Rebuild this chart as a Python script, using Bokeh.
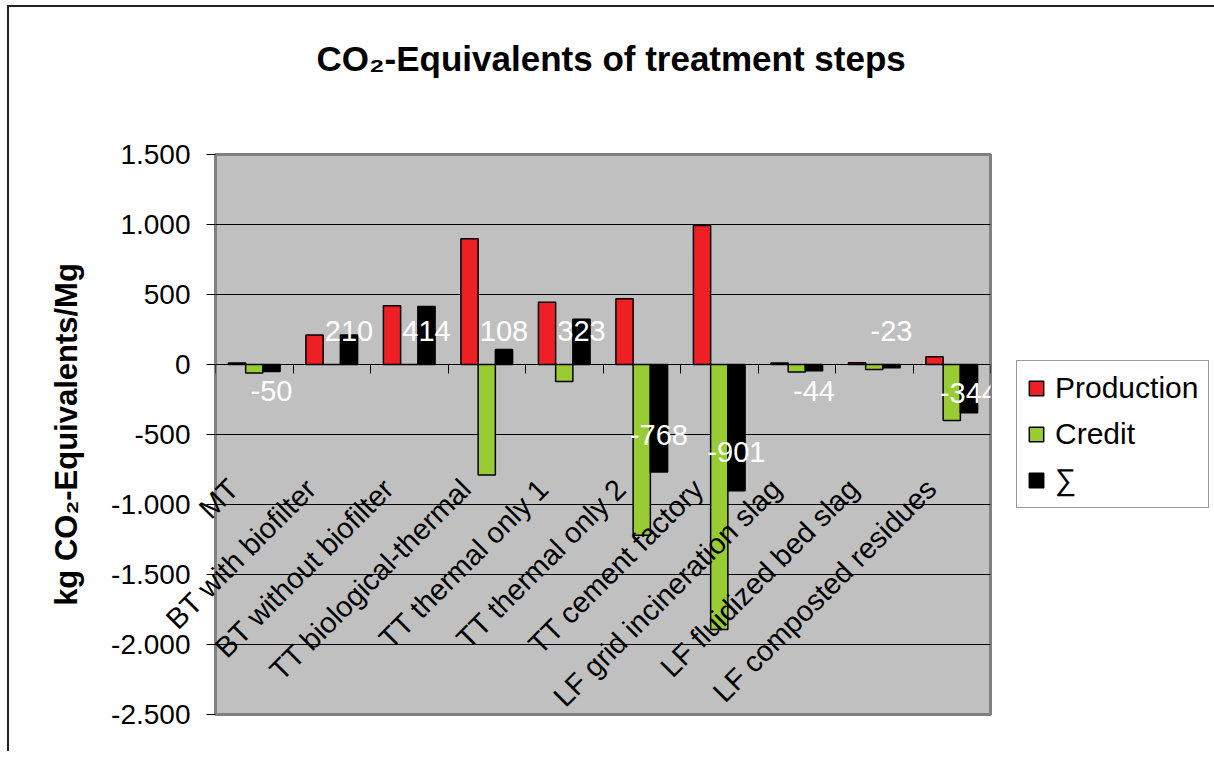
import math
from bokeh.plotting import figure
from bokeh.models import (ColumnDataSource, FixedTicker, Range1d, LinearAxis, Legend, Title)
from bokeh.transform import dodge
from bokeh.core.properties import value
from bokeh.embed import file_html
from bokeh.resources import INLINE

# ---------------- data ----------------
categories = ["MT", "BT with biofilter", "BT without biofilter", "TT biological-thermal",
              "TT thermal only 1", "TT thermal only 2", "TT cement factory",
              "LF grid incineration slag", "LF fluidized bed slag", "LF composted residues"]
production = [10, 210, 420, 898, 445, 470, 992, 10, 12, 56]
credit = [-60, 0, 0, -790, -122, -1220, -1893, -54, -35, -400]
total = [-50, 210, 414, 108, 323, -768, -901, -44, -23, -344]
total_labels = ["-50", "210", "414", "108", "323", "-768", "-901", "-44", "-23", "-344"]
label_pos = [-191, 236, 236, 236, 236, -500, -626, -191, 236, -205]
y_ticks = [-2500, -2000, -1500, -1000, -500, 0, 500, 1000, 1500]
y_tick_labels = ["-2.500", "-2.000", "-1.500", "-1.000", "-500", "0", "500", "1.000", "1.500"]
series_names = ["Production", "Credit", "\u2211"]

FONT = "Liberation Sans"
BAR_W = 0.2222
n = len(categories)
centers = [i + 0.5 for i in range(n)]
Y_MIN, Y_MAX = -2500, 1500
FRAME_H = 560
# category labels hang 108 px below the zero line (converted to data units)
cat_label_y = -108 * (Y_MAX - Y_MIN) / FRAME_H

src = ColumnDataSource(dict(xc=centers, cat=categories, prod=production, cred=credit,
                            tot=total, lbl=total_labels, ly=label_pos,
                            cy=[cat_label_y] * n))

p = figure(x_range=Range1d(0, n), y_range=Range1d(Y_MIN, Y_MAX),
           frame_width=775, frame_height=FRAME_H,
           min_border_left=206, min_border_top=147, min_border_right=216, min_border_bottom=37,
           x_axis_location=None, y_axis_location="left",
           output_backend="svg", toolbar_location=None,
           background_fill_color="#C0C0C0", border_fill_color="white")
p.styles = {"border-top": "2px solid #222222", "border-left": "2px solid #222222",
            "margin-left": "7px", "margin-top": "5px"}

p.outline_line_color = "#808080"
p.outline_line_width = 3

# grid
p.xgrid.grid_line_color = None
p.ygrid.ticker = FixedTicker(ticks=y_ticks)
p.ygrid.grid_line_color = "black"
p.ygrid.grid_line_width = 1

# y axis
ya = p.yaxis[0]
ya.ticker = FixedTicker(ticks=y_ticks)
ya.major_label_overrides = {t: l for t, l in zip(y_ticks, y_tick_labels)}
ya.major_label_text_font = FONT
ya.major_label_text_font_size = "28px"
ya.major_label_text_color = "black"
ya.major_tick_out = 9
ya.major_tick_in = 0
ya.major_tick_line_color = "black"
ya.minor_tick_line_color = None
ya.axis_line_color = None
ya.major_label_standoff = 16
ya.axis_label = "kg CO\u2082-Equivalents/Mg"
ya.axis_label_text_font = FONT
ya.axis_label_text_font_size = "31px"
ya.axis_label_text_font_style = "bold"
ya.axis_label_text_color = "black"
ya.axis_label_standoff = 24

# category boundary ticks on the zero line
edge_axis = LinearAxis(fixed_location=0,
                       ticker=FixedTicker(ticks=list(range(n + 1))),
                       major_tick_out=9, major_tick_in=0, major_tick_line_color="black",
                       minor_tick_line_color=None, axis_line_color=None,
                       major_label_text_font_size="0px", major_label_text_alpha=0)
p.add_layout(edge_axis, "below")

# bars
r1 = p.vbar(x=dodge("xc", -BAR_W), top="prod", bottom=0, width=BAR_W,
            source=src, fill_color="#EE2024", line_color="black", line_width=1.5)
r2 = p.vbar(x=dodge("xc", 0), top="cred", bottom=0, width=BAR_W,
            source=src, fill_color="#99CC33", line_color="black", line_width=1.5)
r3 = p.vbar(x=dodge("xc", BAR_W), top="tot", bottom=0, width=BAR_W,
            source=src, fill_color="black", line_color="black", line_width=1.5)

# data labels for the sum series
p.text(x=dodge("xc", BAR_W), y="ly", text="lbl", source=src,
       text_color="white", text_font=value(FONT), text_font_size="29px",
       text_align="center", text_baseline="middle")

# category labels, rotated, hanging below the zero line (overlay level: not clipped to the frame)
p.text(x="xc", y="cy", text="cat", source=src, angle=math.pi / 4, x_offset=-32,
       text_align="right", text_baseline="top",
       text_font=value(FONT), text_font_size="29px", text_color="black",
       level="overlay")

# legend
legend = Legend(items=[(series_names[0], [r1]), (series_names[1], [r2]), (series_names[2], [r3])],
                location="left", orientation="vertical",
                label_text_font=FONT, label_text_font_size="30px", label_text_color="black",
                glyph_width=18, glyph_height=18, label_standoff=10, spacing=12, padding=10,
                margin=26, border_line_color="#333333", border_line_width=1,
                background_fill_color="white", background_fill_alpha=1)
p.add_layout(legend, "right")

# spacer between title and plot area
p.add_layout(Title(text=" ", text_font_size="1px", standoff=41), "above")

# title
p.title.text = "CO\u2082-Equivalents of treatment steps"
p.title.text_font = FONT
p.title.text_font_size = "35px"
p.title.text_font_style = "bold"
p.title.text_color = "black"
p.title.align = "left"
p.title.offset = 101
p.title.vertical_align = "top"
p.title.standoff = 62

open("out.html", "w").write(file_html(p, INLINE))
